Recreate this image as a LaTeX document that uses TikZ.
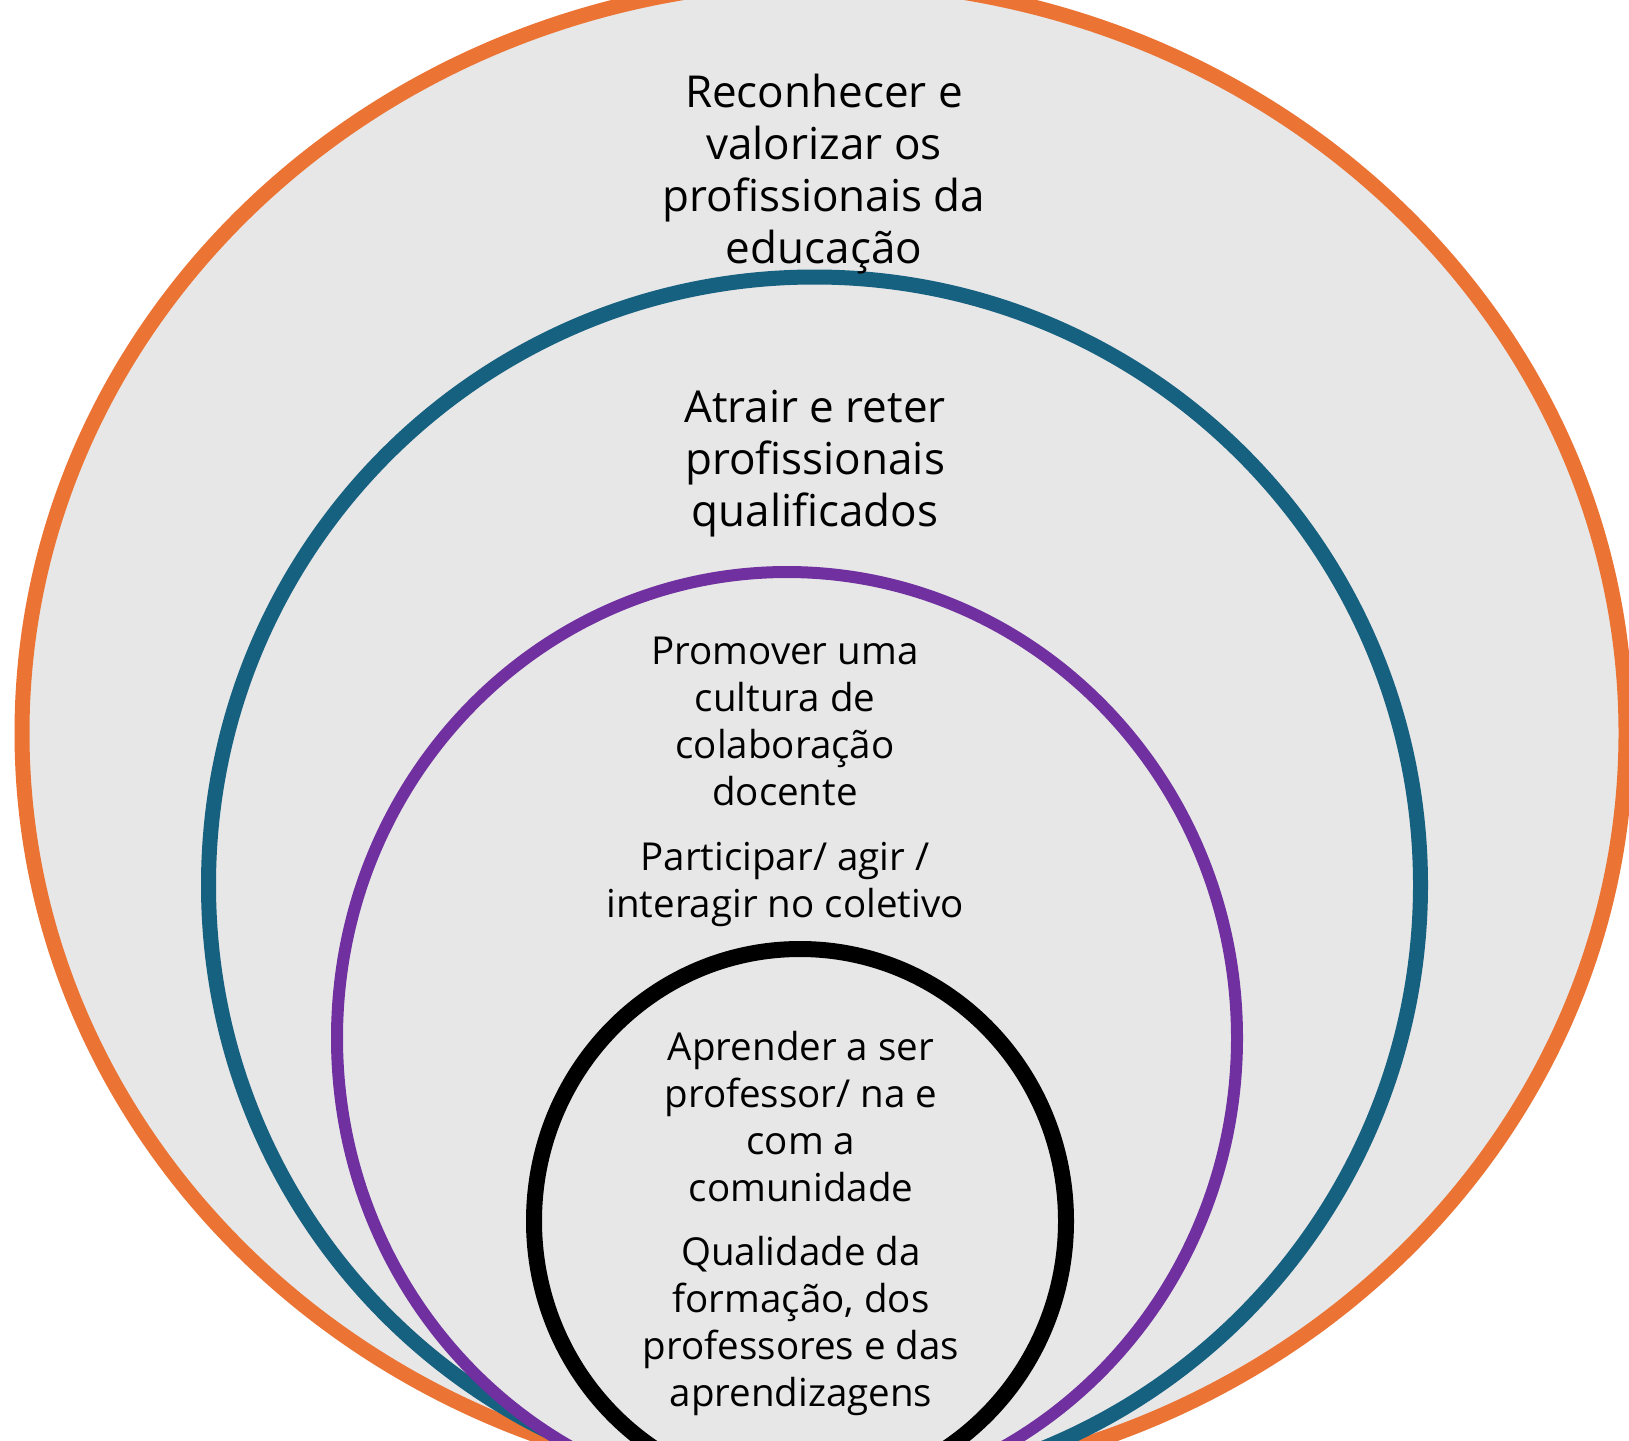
\documentclass[tikz,border=0pt]{standalone}
\usepackage{fontspec}
\setmainfont{Open Sans}
\definecolor{ringorange}{RGB}{235,116,52}
\definecolor{ringblue}{RGB}{22,96,128}
\definecolor{ringpurple}{RGB}{112,48,160}
\definecolor{ringgray}{RGB}{231,231,231}
\tikzset{
  ring/.style={fill=ringgray},
  bigtxt/.style={align=center, anchor=base, inner sep=0pt, font=\fontsize{44}{52}\selectfont},
  smalltxt/.style={align=center, anchor=base, inner sep=0pt, font=\fontsize{38.5}{47}\selectfont}
}
\begin{document}
\begin{tikzpicture}[x=1pt,y=-1pt]
\useasboundingbox (0,0) rectangle (1629,1440);
\clip (0,0) rectangle (1629,1440);
\fill[white] (0,0) rectangle (1629,1440);
\draw[ring, draw=ringorange, line width=15pt] (824,733) ellipse [x radius=802pt, y radius=752pt];
\draw[ring, draw=ringblue, line width=15pt] (814.5,885) ellipse [x radius=606pt, y radius=608pt];
\draw[ring, draw=ringpurple, line width=12pt] (787,1038) ellipse [x radius=450pt, y radius=466pt];
\draw[ring, draw=black, line width=16pt] (800,1221) ellipse [x radius=266pt, y radius=272pt];
\node[bigtxt] (t1) at (824,263) {Reconhecer e\\valorizar os\\profissionais da\\educação};
\node[bigtxt] (t2) at (815,526) {Atrair e reter\\profissionais\\qualificados};
\node[smalltxt] (t3) at (785,805) {Promover uma\\cultura de\\colaboração\\docente};
\node[smalltxt] (t4) at (785,917) {Participar/ agir /\\interagir no coletivo};
\node[smalltxt] (t5) at (801,1201) {Aprender a ser\\professor/ na e\\com a\\comunidade};
\node[smalltxt] (t6) at (801,1406) {Qualidade da\\formação, dos\\professores e das\\aprendizagens};
\end{tikzpicture}
\end{document}
